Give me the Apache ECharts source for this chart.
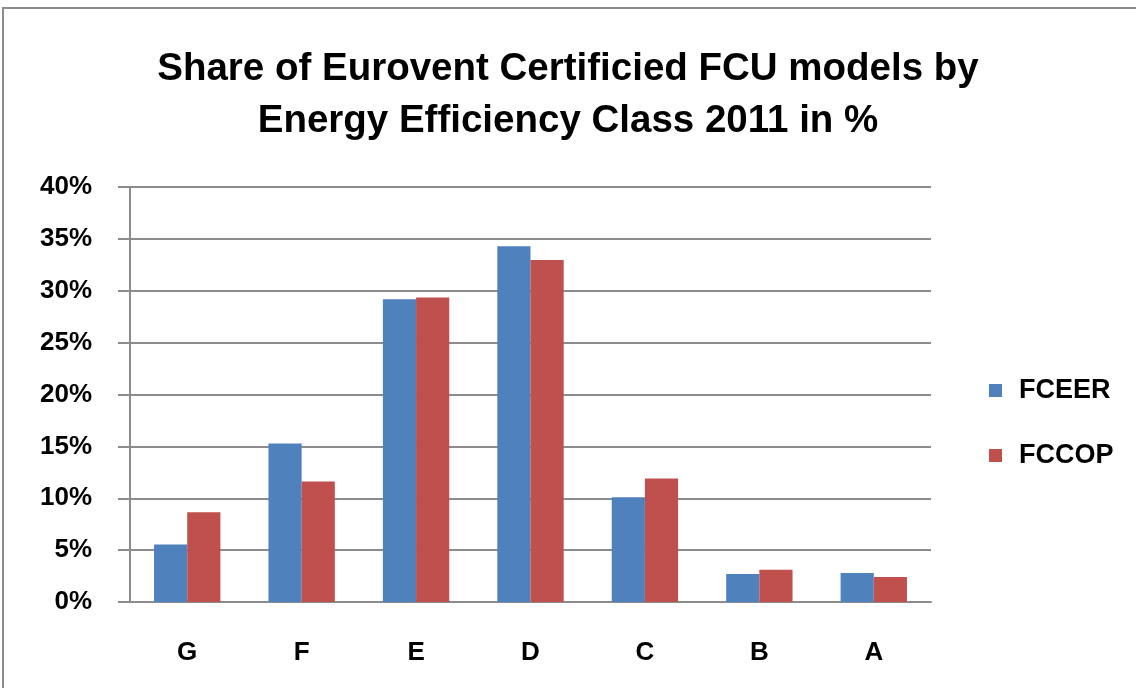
<!DOCTYPE html>
<html>
<head>
<meta charset="utf-8">
<script src="https://cdn.jsdelivr.net/npm/echarts@6/dist/echarts.min.js"></script>
<style>
  html, body { margin: 0; padding: 0; background: #fff; }
  #chart { width: 1136px; height: 688px; }
</style>
</head>
<body>
<div id="chart"></div>
<script>
// energy classes, worst to best
const classes = ['G', 'F', 'E', 'D', 'C', 'B', 'A'];
const fceer = [5.55, 15.27, 29.18, 34.28, 10.1, 2.69, 2.79];
const fccop = [8.66, 11.61, 29.35, 32.97, 11.9, 3.11, 2.41];
const yTicks = [0, 5, 10, 15, 20, 25, 30, 35, 40];

const font = '"Liberation Sans", sans-serif';
const chart = echarts.init(document.getElementById('chart'));

chart.setOption({
  animation: false,
  textStyle: { fontFamily: font },
  title: {
    text: 'Share of Eurovent Certificied FCU models by\nEnergy Efficiency Class 2011 in %',
    left: 'center',
    top: 38,
    textStyle: { fontFamily: font, fontSize: 38.5, fontWeight: 'bold', color: '#000', lineHeight: 52 }
  },
  graphic: [{
    type: 'rect',
    shape: { x: 3, y: 8, width: 1140, height: 690 },
    style: { fill: 'none', stroke: '#8c8c8c', lineWidth: 2 }
  }],
  legend: {
    orient: 'vertical',
    left: 984,
    top: 372,
    icon: 'rect',
    itemWidth: 13,
    itemHeight: 13,
    itemGap: 38,
    textStyle: { fontFamily: font, fontSize: 27, fontWeight: 'bold', color: '#000', padding: [0, 0, 0, 12] },
    data: ['FCEER', 'FCCOP']
  },
  grid: { left: 130, top: 187, width: 801, height: 415 },
  xAxis: {
    type: 'category',
    data: classes,
    axisLine: { lineStyle: { color: '#8c8c8c', width: 2 } },
    axisTick: { length: 12, lineStyle: { color: '#8c8c8c', width: 2 } },
    axisLabel: { margin: 38, fontFamily: font, fontSize: 26, fontWeight: 'bold', color: '#000' }
  },
  yAxis: {
    type: 'value',
    min: yTicks[0],
    max: yTicks[yTicks.length - 1],
    interval: 5,
    axisLine: { show: true, lineStyle: { color: '#8c8c8c', width: 2 } },
    axisTick: { show: true, length: 12, lineStyle: { color: '#8c8c8c', width: 2 } },
    splitLine: { lineStyle: { color: '#8c8c8c', width: 2 } },
    axisLabel: { margin: 38, formatter: '{value}%', fontFamily: font, fontSize: 26, fontWeight: 'bold', color: '#000' }
  },
  series: [
    {
      name: 'FCEER', type: 'bar', data: fceer,
      barGap: '0%', barCategoryGap: '42%',
      itemStyle: { color: '#4F81BD' }
    },
    {
      name: 'FCCOP', type: 'bar', data: fccop,
      itemStyle: { color: '#C0504D' }
    }
  ]
});
</script>
</body>
</html>
